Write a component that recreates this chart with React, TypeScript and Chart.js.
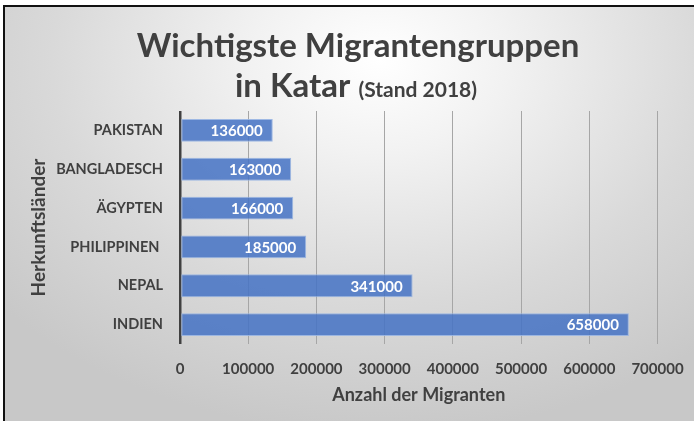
import React, { useEffect, useRef } from 'react';
import { Chart, registerables } from 'chart.js';

Chart.register(...registerables);

const countries = ['PAKISTAN', 'BANGLADESCH', 'ÄGYPTEN', 'PHILIPPINEN ', 'NEPAL', 'INDIEN'];
const migrants = [136000, 163000, 166000, 185000, 341000, 658000];
const xTickValues = [0, 100000, 200000, 300000, 400000, 500000, 600000, 700000];
const titleLine1 = 'Wichtigste Migrantengruppen';
const titleLine2Main = 'in Katar';
const titleLine2Note = '(Stand 2018)';
const yAxisTitle = 'Herkunftsländer';
const xAxisTitle = 'Anzahl der Migranten';

const FONT = 'Lato, "Open Sans", sans-serif';
const TEXT = '#404040';

const titlePlugin = {
  id: 'twoLineTitle',
  afterDraw(chart: any) {
    const ctx = chart.ctx;
    ctx.save();
    ctx.fillStyle = TEXT;
    ctx.textBaseline = 'alphabetic';
    ctx.textAlign = 'center';
    ctx.font = `bold 33px ${FONT}`;
    ctx.fillText(titleLine1, 358, 57);
    const w1 = ctx.measureText(titleLine2Main + ' ').width;
    ctx.font = `bold 21px ${FONT}`;
    const w2 = ctx.measureText(titleLine2Note).width;
    const start = 356 - (w1 + w2) / 2;
    ctx.textAlign = 'left';
    ctx.font = `bold 33px ${FONT}`;
    ctx.fillText(titleLine2Main, start, 97);
    ctx.font = `bold 21px ${FONT}`;
    ctx.fillText(titleLine2Note, start + w1, 97);
    ctx.restore();
  },
};

const valueLabelPlugin = {
  id: 'valueLabels',
  afterDatasetsDraw(chart: any) {
    const ctx = chart.ctx;
    const meta = chart.getDatasetMeta(0);
    ctx.save();
    ctx.fillStyle = '#ffffff';
    ctx.font = `bold 15px ${FONT}`;
    ctx.textAlign = 'right';
    ctx.textBaseline = 'middle';
    meta.data.forEach((bar: any, i: number) => {
      ctx.fillText(String(migrants[i]), bar.x - 10, bar.y + 1);
    });
    ctx.restore();
  },
};

export default function App() {
  const ref = useRef<HTMLCanvasElement | null>(null);

  useEffect(() => {
    document.body.style.margin = '0';
    const canvas = ref.current;
    if (!canvas) return;
    const chart = new Chart(canvas, {
      type: 'bar',
      data: {
        labels: countries,
        datasets: [
          {
            data: migrants,
            backgroundColor: 'rgba(68,114,196,0.85)',
            borderColor: 'rgba(150,178,226,0.9)',
            borderWidth: 1,
            borderSkipped: false,
            categoryPercentage: 1,
            barPercentage: 0.59,
          },
        ],
      },
      options: {
        indexAxis: 'y',
        responsive: false,
        animation: false,
        devicePixelRatio: 1,
        layout: { padding: { top: 111, right: 36.5, bottom: 0, left: 0 } },
        plugins: {
          legend: { display: false },
          tooltip: { enabled: false },
          title: { display: false },
        },
        scales: {
          x: {
            type: 'linear',
            min: 0,
            max: 700000,
            afterBuildTicks: (s: any) => {
              s.ticks = xTickValues.map((v) => ({ value: v }));
            },
            afterFit: (s: any) => {
              s.height = 77;
              s.paddingLeft = 0;
              s.paddingRight = 0;
            },
            grid: {
              drawTicks: false,
              color: (c: any) => (c.tick && c.tick.value === 0 ? '#404040' : '#a6a6a6'),
              lineWidth: (c: any) => (c.tick && c.tick.value === 0 ? 2.5 : 1),
            },
            border: { display: false },
            ticks: {
              padding: 16,
              color: TEXT,
              font: { family: FONT, size: 15, weight: 'bold' },
              callback: (v: any) => String(v),
              maxRotation: 0,
            },
            title: {
              display: true,
              text: xAxisTitle,
              color: TEXT,
              font: { family: FONT, size: 18, weight: 'bold' },
              padding: { top: 0, bottom: 15 },
            },
          },
          y: {
            type: 'category',
            afterFit: (s: any) => {
              s.width = 180;
              s.paddingTop = 0;
              s.paddingBottom = 0;
            },
            grid: { display: false, drawTicks: false },
            border: { display: false },
            ticks: {
              padding: 17,
              color: TEXT,
              font: { family: FONT, size: 14.5, weight: 'bold' },
            },
            title: {
              display: true,
              text: yAxisTitle,
              color: TEXT,
              font: { family: FONT, size: 19, weight: 'bold' },
              padding: { top: 27, bottom: 0 },
            },
          },
        },
      },
      plugins: [titlePlugin, valueLabelPlugin],
    });
    return () => chart.destroy();
  }, []);

  return (
    <div style={{ position: 'absolute', left: 0, top: 0, width: 694, height: 421, overflow: 'hidden' }}>
      <div
        style={{
          position: 'absolute',
          left: 3,
          top: 5,
          width: 720,
          height: 440,
          borderLeft: '2px solid #111',
          borderTop: '2px solid #111',
          background:
            'radial-gradient(ellipse 70% 85% at 52% 12%, #ffffff 0%, #f2f2f2 25%, #d9d9d9 65%, #c8c8c8 100%)',
        }}
      />
      <canvas
        ref={ref}
        width={694}
        height={421}
        style={{ position: 'absolute', left: 0, top: 0, width: 694, height: 421 }}
      />
    </div>
  );
}
